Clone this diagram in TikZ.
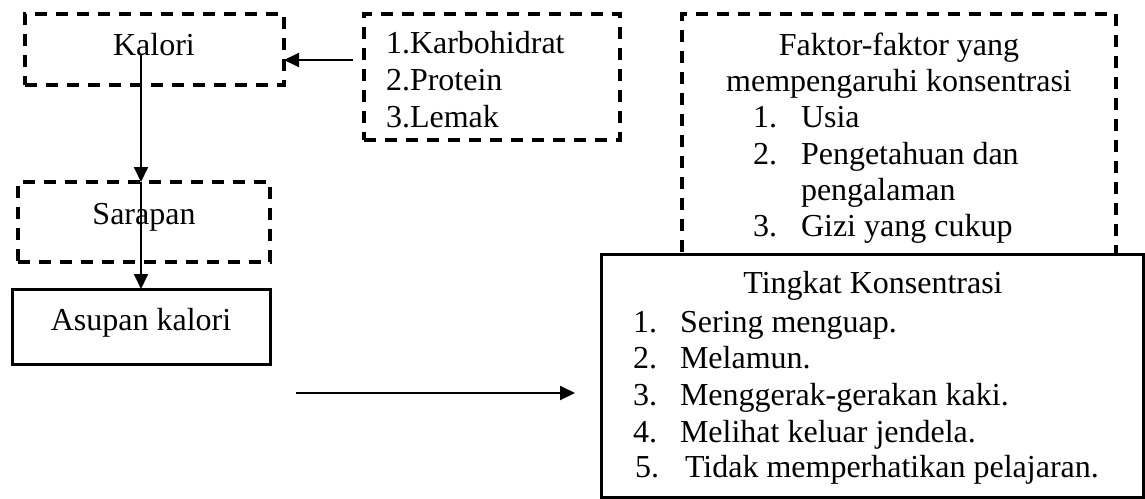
\documentclass[tikz,border=0pt]{standalone}
\usepackage{fontspec}
\setmainfont{Liberation Serif}
\usetikzlibrary{arrows.meta}
\tikzset{
  dbox/.style={draw, line width=3.2pt, dash pattern=on 12pt off 9pt, rectangle, anchor=north west, inner sep=0pt, outer sep=0pt},
  sbox/.style={draw, line width=3pt, rectangle, anchor=north west, inner sep=0pt, outer sep=0pt, fill=white},
  txt/.style={inner sep=0pt, outer sep=0pt, font=\fontsize{32}{36}\selectfont},
  arr/.style={line width=1.9pt, -{Triangle[length=15pt,width=14pt]}}
}
\begin{document}
\begin{tikzpicture}[x=1pt,y=-1pt]
\useasboundingbox (0,0) rectangle (1145,498);
% boxes
\node[dbox, minimum width=259, minimum height=71] (kal) at (25,14) {};
\node[dbox, minimum width=252, minimum height=80] (sar) at (18,182) {};
\node[sbox, minimum width=258, minimum height=75] (asu) at (12,289) {};
\node[dbox, minimum width=256, minimum height=126] (kb) at (364,14) {};
\node[dbox, minimum width=434, minimum height=250] (fak) at (682,14) {};
\node[sbox, minimum width=542, minimum height=243] (tk) at (601,254) {};
% texts
\node[txt, anchor=base] (kalt) at (154,55) {Kalori};
\node[txt, anchor=base] (sart) at (144,224) {Sarapan};
\node[txt, anchor=base] (asut) at (141,330) {Asupan kalori};
\node[txt, anchor=base west] (kb1) at (386,53) {1.Karbohidrat};
\node[txt, anchor=base west] (kb2) at (386,90) {2.Protein};
\node[txt, anchor=base west] (kb3) at (386,127) {3.Lemak};
\node[txt, anchor=base] (fk0) at (899,55) {Faktor-faktor yang};
\node[txt, anchor=base] (fk00) at (899,91) {mempengaruhi konsentrasi};
\node[txt, anchor=base west] (fn1) at (753,127) {1.};
\node[txt, anchor=base west] (ft1) at (801,127) {Usia};
\node[txt, anchor=base west] (fn2) at (753,164) {2.};
\node[txt, anchor=base west] (ft2) at (801,164) {Pengetahuan dan};
\node[txt, anchor=base west] (ft2b) at (801,200) {pengalaman};
\node[txt, anchor=base west] (fn3) at (753,236) {3.};
\node[txt, anchor=base west] (ft3) at (801,236) {Gizi yang cukup};
\node[txt, anchor=base] (tk0) at (873,293) {Tingkat Konsentrasi};
\node[txt, anchor=base west] (tn1) at (633,332) {1.};
\node[txt, anchor=base west] (tt1) at (680,332) {Sering menguap.};
\node[txt, anchor=base west] (tn2) at (633,368) {2.};
\node[txt, anchor=base west] (tt2) at (680,368) {Melamun.};
\node[txt, anchor=base west] (tn3) at (633,405) {3.};
\node[txt, anchor=base west] (tt3) at (680,405) {Menggerak-gerakan kaki.};
\node[txt, anchor=base west] (tn4) at (633,442) {4.};
\node[txt, anchor=base west] (tt4) at (680,442) {Melihat keluar jendela.};
\node[txt, anchor=base west] (tn5) at (635,477) {5.};
\node[txt, anchor=base west] (tt5) at (685,477) {Tidak memperhatikan pelajaran.};
% connectors
\coordinate (kstart) at (141,55);
\coordinate (kbstart) at (353,60);
\coordinate (hstart) at (296,393);
\coordinate (hend) at (575,393);
\draw[arr] (kstart) -- (kstart |- sar.north);
\draw[arr] (kstart |- sar.north) -- (kstart |- asu.north);
\draw[arr] (kbstart) -- (kbstart -| kal.east);
\draw[arr] (hstart) -- (hend);
\end{tikzpicture}
\end{document}
